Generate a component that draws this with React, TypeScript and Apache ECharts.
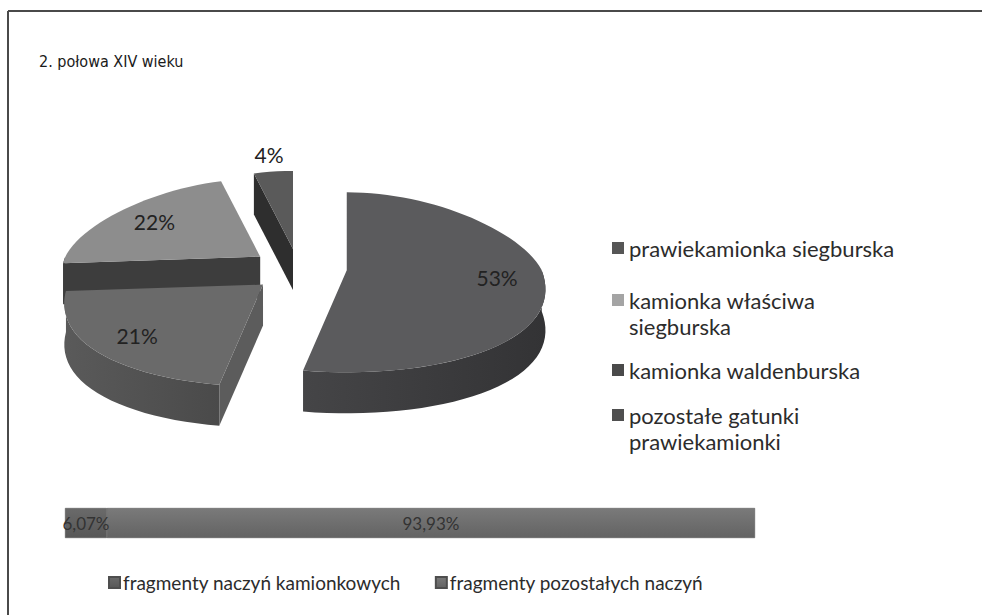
import React, { useEffect, useRef } from "react";
import * as echarts from "echarts";

// ---------- data ----------
const chartTitle = "2. połowa XIV wieku";

const pieNames = [
  "prawiekamionka siegburska",
  "kamionka właściwa siegburska",
  "kamionka waldenburska",
  "pozostałe gatunki prawiekamionki",
];
const pieLegendLabels = [
  "prawiekamionka siegburska",
  "kamionka właściwa\nsiegburska",
  "kamionka waldenburska",
  "pozostałe gatunki\nprawiekamionki",
];
const pieValues = [53, 22, 21, 4];
// order in which the slices are laid out clockwise from 12 o'clock
const pieClockwiseOrder = [0, 2, 1, 3];

const barNames = ["fragmenty naczyń kamionkowych", "fragmenty pozostałych naczyń"];
const barValues = [6.07, 93.93];

// ---------- styles ----------
const pieTopColors = ["#5b5b5d", "#8d8d8d", "#6a6a6a", "#5a5a5a"];
const pieOuterWall = [
  ["#454547", "#333335"],
  ["#404040", "#383838"],
  ["#5a5a5a", "#4a4a4a"],
  ["#333333", "#2c2c2c"],
];
const pieRadialWall = ["#3a3a3c", "#3d3d3d", "#5c5c5c", "#2e2e2e"];
const pieLegendColors = ["#565656", "#a4a4a4", "#4a4a4a", "#4f4f4f"];
const barColors = [
  ["#6a6a6a", "#575757"],
  ["#7a7a7a", "#636363"],
];

const CX = 299;
const CY = 268;
const RX = 195;
const RY_BACK = 78;
const RY_FRONT = 102;
const DEPTH = 41;
const EXPLODE = 0.246;
const PERSP = 0.2;

function pt(theta: number, r: number, ox: number, oy: number, h = 0, persp = true): number[] {
  const s = Math.sin(theta);
  const c = Math.cos(theta);
  const f = persp ? 1 - PERSP * c : 1;
  return [ox + r * RX * s * f, oy - r * c * (c > 0 ? RY_BACK : RY_FRONT) + h];
}

function arcPoints(a0: number, a1: number, ox: number, oy: number, h: number): number[][] {
  const n = Math.max(2, Math.ceil(((a1 - a0) / (Math.PI * 2)) * 120));
  const out: number[][] = [];
  for (let k = 0; k <= n; k++) {
    out.push(pt(a0 + ((a1 - a0) * k) / n, 1, ox, oy, h));
  }
  return out;
}

// legend icon: a 12px square at the top of a 12x38 box (keeps it level with the first text line)
const tallIcon = "path://M0,0H12V12H0ZM0,37.95H0.05V38H0Z";

export default function App() {
  const ref = useRef<HTMLDivElement>(null);

  useEffect(() => {
    if (!ref.current) return;
    const chart = echarts.init(ref.current, undefined, { renderer: "svg" });

    const total = pieValues.reduce((a, b) => a + b, 0);
    let acc = 0;
    const sliceData = pieClockwiseOrder.map((i) => {
      const d = { name: pieNames[i], value: [pieValues[i], acc, i] };
      acc += pieValues[i];
      return d;
    });

    const renderItem = (params: any, api: any) => {
      const v = api.value(0) as number;
      const cum = api.value(1) as number;
      const ci = api.value(2) as number;
      const a0 = (cum / total) * Math.PI * 2;
      const a1 = ((cum + v) / total) * Math.PI * 2;
      const mid = (a0 + a1) / 2;
      const [ax, ay] = pt(mid, EXPLODE, CX, CY, 0, false);
      const base = Math.round(ay) * 4;
      const children: any[] = [];

      // outer curved wall (front-facing part only)
      const lo = Math.max(a0, Math.PI / 2);
      const hi = Math.min(a1, (Math.PI * 3) / 2);
      if (hi > lo) {
        const topArc = arcPoints(lo, hi, ax, ay, 0);
        const botArc = arcPoints(lo, hi, ax, ay, DEPTH).reverse();
        children.push({
          type: "polygon",
          z2: base,
          shape: { points: topArc.concat(botArc) },
          style: {
            fill: new echarts.graphic.LinearGradient(1, 0, 0, 0, [
              { offset: 0, color: pieOuterWall[ci][1] },
              { offset: 1, color: pieOuterWall[ci][0] },
            ]),
          },
        });
      }
      // radial walls
      const wall = (a: number) => {
        const p = pt(a, 1, ax, ay, 0);
        return [
          [ax, ay],
          p,
          [p[0], p[1] + DEPTH],
          [ax, ay + DEPTH],
        ];
      };
      if (Math.sin(a0) < -1e-6) {
        children.push({
          type: "polygon",
          z2: base + 1,
          shape: { points: wall(a0) },
          style: { fill: pieRadialWall[ci] },
        });
      }
      if (Math.sin(a1) > 1e-6) {
        children.push({
          type: "polygon",
          z2: base + 1,
          shape: { points: wall(a1) },
          style: { fill: pieRadialWall[ci] },
        });
      }
      // top face
      children.push({
        type: "polygon",
        z2: base + 2,
        shape: { points: [[ax, ay]].concat(arcPoints(a0, a1, ax, ay, 0)) },
        style: { fill: pieTopColors[ci] },
      });
      // label
      const lr = v < 8 ? 1.22 : 0.76;
      const lp = pt(mid, lr, ax, ay);
      children.push({
        type: "text",
        z2: 5000,
        x: lp[0],
        y: lp[1],
        style: {
          text: Math.round(v) + "%",
          fill: "#222222",
          fontSize: 21,
          fontFamily: "Lato",
          align: "center",
          verticalAlign: "middle",
        },
      });
      return { type: "group", children };
    };

    const legendTops = [230, 282, 352, 397];
    const pieLegends = pieNames.map((n, i) => {
      const twoLines = pieLegendLabels[i].indexOf("\n") >= 0;
      return {
        data: [n],
        left: 607,
        top: legendTops[i],
        orient: "vertical",
        icon: twoLines ? tallIcon : "rect",
        itemWidth: 12,
        itemHeight: twoLines ? 38 : 12,
        itemGap: 0,
        selectedMode: false,
        formatter: () => pieLegendLabels[i],
        textStyle: {
          fontFamily: "Lato",
          fontSize: 22,
          lineHeight: 26,
          color: "#2c2c2c",
        },
      };
    });

    const option: any = {
      animation: false,
      backgroundColor: "#ffffff",
      title: {
        text: chartTitle,
        left: 34,
        top: 48,
        textStyle: {
          fontFamily: "DejaVu Sans Condensed",
          fontSize: 16,
          fontWeight: "normal",
          color: "#1a1a1a",
        },
      },
      legend: [
        ...pieLegends,
        {
          data: barNames,
          left: 103,
          top: 568,
          orient: "horizontal",
          icon: "rect",
          itemWidth: 11,
          itemHeight: 11,
          itemGap: 34,
          selectedMode: false,
          textStyle: { fontFamily: "Lato", fontSize: 19, color: "#2c2c2c", padding: [0, 0, 0, -2] },
        },
      ],
      grid: { left: 65, top: 508, width: 690, height: 30 },
      xAxis: { type: "value", min: 0, max: 100, show: false },
      yAxis: { type: "category", data: [""], show: false },
      graphic: [
        {
          type: "line",
          shape: { x1: 8, y1: 11, x2: 982, y2: 11 },
          style: { stroke: "#4a4a4a", lineWidth: 2 },
        },
        {
          type: "line",
          shape: { x1: 8, y1: 11, x2: 8, y2: 615 },
          style: { stroke: "#4a4a4a", lineWidth: 2 },
        },
      ],
      series: [
        {
          type: "custom",
          name: "pie3d",
          coordinateSystem: "none",
          renderItem,
          data: sliceData,
          silent: true,
        },
        {
          type: "pie",
          name: "legendSource",
          radius: [0, 0],
          center: [-100, -100],
          silent: true,
          label: { show: false },
          labelLine: { show: false },
          data: pieNames.map((n, i) => ({
            name: n,
            value: pieValues[i],
            itemStyle: { color: pieLegendColors[i] },
          })),
        },
        ...barNames.map((n, i) => ({
          type: "bar",
          name: n,
          stack: "total",
          barWidth: 30,
          data: [barValues[i]],
          itemStyle: {
            color: new echarts.graphic.LinearGradient(0, 0, 0, 1, [
              { offset: 0, color: barColors[i][0] },
              { offset: 1, color: barColors[i][1] },
            ]),
            borderColor: "#4e4e4e",
            borderWidth: 0.5,
          },
          label: {
            show: true,
            position: "inside",
            formatter: (p: any) => Number(p.value).toFixed(2).replace(".", ",") + "%",
            color: "#333333",
            fontFamily: "Lato",
            fontSize: 17,
          },
        })),
      ],
    };

    chart.setOption(option);
    return () => chart.dispose();
  }, []);

  return (
    <div
      ref={ref}
      style={{ position: "absolute", left: 0, top: 0, width: 982, height: 615 }}
    />
  );
}
